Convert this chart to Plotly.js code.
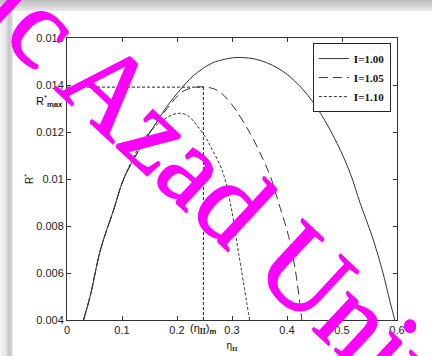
<!DOCTYPE html>
<html>
<head>
<meta charset="utf-8">
<script src="https://cdn.plot.ly/plotly-3.0.1.min.js"></script>
<style>
html,body{margin:0;padding:0;background:#fff;width:433px;height:356px;overflow:hidden;}
#wrap{position:relative;width:433px;height:356px;}
#topband{position:absolute;left:0;top:0;width:432px;height:11px;background:linear-gradient(to bottom,#bdbdbd,#d6d6d6 60%,#ececec);}
#leftband{position:absolute;left:0;top:11px;width:13px;height:345px;background:linear-gradient(to right,#f6f6f6,#e6e6e6 6px,#c4c4c4 9px,#d8d8d8 12px,#f2f2f2);}
#plot{position:absolute;left:0;top:0;width:433px;height:356px;}
</style>
</head>
<body>
<div id="wrap"><div id="topband"></div><div id="leftband"></div><div id="plot"></div></div>
<script>
// Data
const seriesNames = ['I=1.00', 'I=1.05', 'I=1.10'];

const x100 = [0.030, 0.042, 0.061, 0.085, 0.103, 0.130, 0.157, 0.182, 0.206, 0.230, 0.261, 0.279, 0.309, 0.351, 0.394, 0.430, 0.461, 0.491, 0.515, 0.533, 0.555, 0.573, 0.588, 0.596];
const y100 = [0.0040, 0.0050, 0.0070, 0.0087, 0.0100, 0.0112, 0.0122, 0.0131, 0.0138, 0.0144, 0.0149, 0.01505, 0.01517, 0.01505, 0.01456, 0.01378, 0.01279, 0.01152, 0.01024, 0.00897, 0.00755, 0.00614, 0.00472, 0.0040];

const x105 = [0.030, 0.042, 0.061, 0.085, 0.103, 0.130, 0.157, 0.182, 0.209, 0.230, 0.248, 0.273, 0.297, 0.333, 0.357, 0.370, 0.385, 0.403, 0.415, 0.427];
const y105 = [0.0040, 0.0050, 0.0070, 0.0087, 0.0100, 0.0112, 0.0122, 0.0130, 0.0137, 0.01389, 0.01392, 0.01378, 0.01325, 0.01194, 0.01081, 0.0101, 0.00897, 0.00755, 0.00614, 0.0040];

const x110 = [0.030, 0.042, 0.061, 0.085, 0.103, 0.139, 0.170, 0.200, 0.218, 0.236, 0.255, 0.261, 0.282, 0.297, 0.312, 0.332];
const y110 = [0.0040, 0.0050, 0.0070, 0.0087, 0.0100, 0.01166, 0.01243, 0.01279, 0.01272, 0.01229, 0.01166, 0.01138, 0.01038, 0.00897, 0.00685, 0.0040];

// optimum point marked by guide lines
const etaOpt = 0.248;
const rMax = 0.01391;

const xTickVals = [0, 0.1, 0.2, 0.3, 0.4, 0.5, 0.6];
const xTickText = ['0', '0.1', '0.2', '0.3', '0.4', '0.5', '0.6'];
const yTickVals = [0.004, 0.006, 0.008, 0.010, 0.012, 0.014, 0.016];
const yTickText = ['0.004', '0.006', '0.008', '0.01', '0.012', '0.014', '0.016'];

const traces = [
  {x: x100, y: y100, name: seriesNames[0], mode: 'lines',
   line: {color: '#333', width: 1, dash: 'solid', shape: 'spline', smoothing: 1}},
  {x: x105, y: y105, name: seriesNames[1], mode: 'lines',
   line: {color: '#333', width: 1, dash: '9px,5px', shape: 'spline', smoothing: 1}},
  {x: x110, y: y110, name: seriesNames[2], mode: 'lines',
   line: {color: '#333', width: 1, dash: '3px,2px', shape: 'spline', smoothing: 1}}
];

const axisCommon = {
  showgrid: false, zeroline: false, showline: true, linecolor: '#333', linewidth: 1,
  mirror: 'ticks', ticks: 'inside', ticklen: 4, tickcolor: '#333',
  tickfont: {family: 'Liberation Sans, Arial, sans-serif', size: 11, color: '#222'}
};

const layout = {
  width: 433, height: 356,
  margin: {l: 67, r: 36, t: 38, b: 36},
  paper_bgcolor: 'rgba(0,0,0,0)', plot_bgcolor: '#fff',
  showlegend: true,
  legend: {x: 0.745, y: 0.982, xanchor: 'left', yanchor: 'top', bgcolor: '#fff',
           bordercolor: '#222', borderwidth: 1,
           font: {family: 'Liberation Serif, Times New Roman, serif', size: 11, color: '#111', weight: 'bold'}},
  xaxis: Object.assign({}, axisCommon, {range: [0, 0.6], tickvals: xTickVals, ticktext: xTickText,
    title: {text: 'η<sub><span style="font-family:Liberation Serif;font-weight:bold">II</span></sub>',
            font: {family: 'Liberation Sans, Arial, sans-serif', size: 10, color: '#111'}, standoff: 6}}),
  yaxis: Object.assign({}, axisCommon, {range: [0.004, 0.016], tickvals: yTickVals, ticktext: yTickText,
    title: {text: 'R<sup>*</sup>', font: {family: 'Liberation Sans, Arial, sans-serif', size: 10, color: '#111'}, standoff: 0}}),
  shapes: [
    {type: 'line', xref: 'x', yref: 'y', x0: 0, x1: etaOpt, y0: rMax, y1: rMax,
     line: {color: '#222', width: 1, dash: '3px,2px'}},
    {type: 'line', xref: 'x', yref: 'y', x0: etaOpt, x1: etaOpt, y0: 0.004, y1: rMax,
     line: {color: '#222', width: 1, dash: '3px,2px'}}
  ],
  annotations: [
    {xref: 'paper', yref: 'paper', x: -0.006, y: 0.775, xanchor: 'right', yanchor: 'middle', showarrow: false,
     text: 'R<sup>*</sup><sub><b>max</b></sub>',
     font: {family: 'Liberation Sans, Arial, sans-serif', size: 11, color: '#111'}},
    {xref: 'x', yref: 'paper', x: etaOpt, y: -0.032, xanchor: 'center', yanchor: 'middle', showarrow: false,
     text: '(η<sub><span style="font-family:Liberation Serif;font-weight:bold">II</span></sub>)<sub><b>m</b></sub>',
     font: {family: 'Liberation Sans, Arial, sans-serif', size: 11, color: '#111'}},
    {xref: 'paper', yref: 'paper', x: 0.474, y: 0.445, xanchor: 'center', yanchor: 'middle', showarrow: false,
     text: 'ic Azad Univ', textangle: 43,
     font: {family: 'Liberation Serif, Times New Roman, serif', size: 114, color: '#ff00ff',
            shadow: '0.7px 0.7px 0 #ff00ff, -0.7px -0.7px 0 #ff00ff'}}
  ]
};

Plotly.newPlot('plot', traces, layout, {displayModeBar: false, staticPlot: true});
</script>
</body>
</html>
